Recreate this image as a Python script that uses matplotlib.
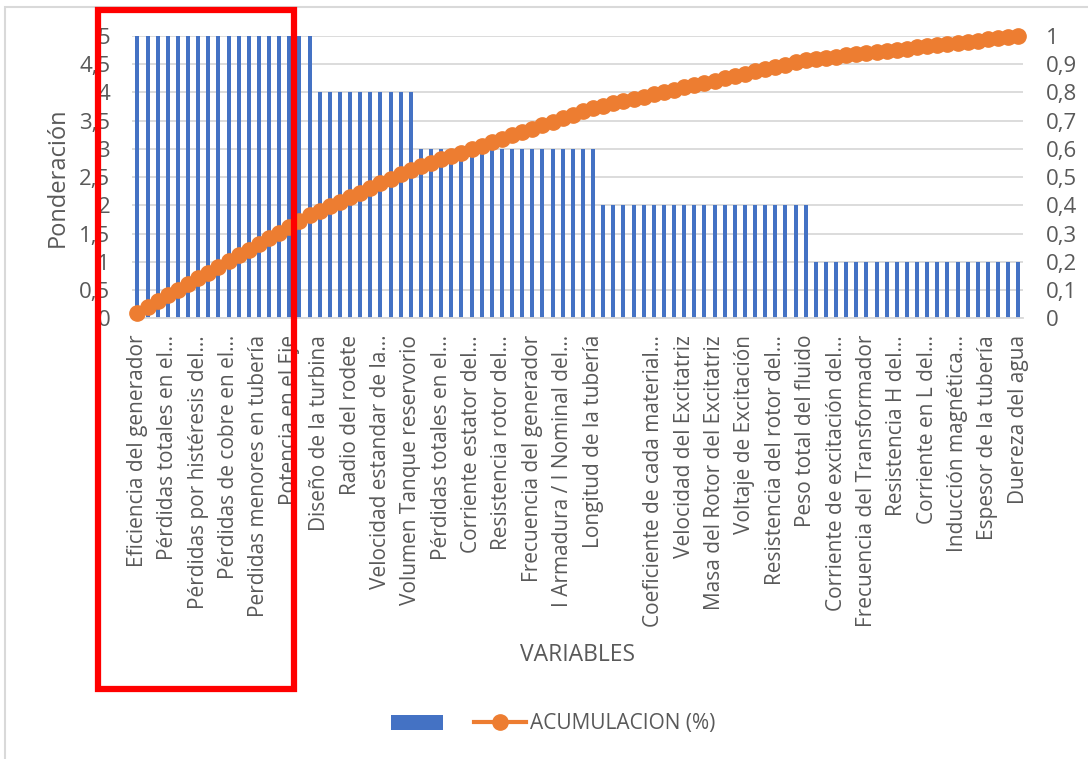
import matplotlib.pyplot as plt
from matplotlib.patches import Rectangle, Patch
from matplotlib.lines import Line2D
from matplotlib.ticker import FuncFormatter

# ==========================================
# Data
# ==========================================

# number of variables in each weight group (5, 4, 3, 2, 1)
weights = [5, 4, 3, 2, 1]
group_sizes = [18, 10, 18, 21, 21]

ponderacion = []
for w, n in zip(weights, group_sizes):
    ponderacion += [w] * n

# labels shown on the category axis (every 3rd variable)
tick_labels = [
    "Eficiencia del generador",
    "Pérdidas totales en el…",
    "Pérdidas por histéresis del…",
    "Pérdidas de cobre en el…",
    "Perdidas menores en tubería",
    "Potencia en el Eje",
    "Diseño de la turbina",
    "Radio del rodete",
    "Velocidad estandar de la…",
    "Volumen Tanque reservorio",
    "Pérdidas totales en el…",
    "Corriente estator del…",
    "Resistencia rotor del…",
    "Frecuencia del generador",
    "I Armadura / I Nominal del…",
    "Longitud de la tubería",
    "",
    "Coeficiente de cada material…",
    "Velocidad del Excitatriz",
    "Masa del Rotor del Excitatriz",
    "Voltaje de Excitación",
    "Resistencia del rotor del…",
    "Peso total del fluido",
    "Corriente de excitación del…",
    "Frecuencia del Transformador",
    "Resistencia H del…",
    "Corriente en L del…",
    "Inducción magnética…",
    "Espesor de la tubería",
    "Duereza del agua",
]
tick_step = 3

# cumulative share
total = sum(ponderacion)
acumulacion = []
s = 0
for v in ponderacion:
    s += v
    acumulacion.append(s / total)

x = list(range(len(ponderacion)))

# ==========================================
# Style
# ==========================================

plt.rcParams["font.family"] = ["Open Sans", "DejaVu Sans"]
text_color = "#595959"
grid_color = "#D9D9D9"
blue = "#4472C4"
orange = "#ED7D31"


def comma(v, pos):
    return f"{v:g}".replace(".", ",")


fig = plt.figure(figsize=(10.88, 7.59), dpi=100)
ax = fig.add_axes([0.1217, 0.5806, 0.8189, 0.372])
ax2 = ax.twinx()

# ==========================================
# Bars
# ==========================================

ax.bar(x, ponderacion, width=0.4, color=blue, zorder=2)
ax.set_xlim(-0.5, len(x) - 0.5)
ax.set_ylim(0, 5)
ax.set_yticks([i * 0.5 for i in range(11)])
ax.yaxis.set_major_formatter(FuncFormatter(comma))
ax.yaxis.grid(True, color=grid_color, lw=1.3, zorder=0)
ax.set_axisbelow(True)

ax.set_xticks(x[::tick_step])
ax.set_xticklabels(tick_labels, rotation=90, ha="center", va="top",
                   fontsize=15, color=text_color)
ax.tick_params(axis="x", length=0, pad=12)
ax.tick_params(axis="y", length=0, pad=16, labelsize=16, labelcolor=text_color)

ax.set_ylabel("Ponderación", fontsize=17, color=text_color, labelpad=7)
ax.set_xlabel("VARIABLES", fontsize=16.5, color=text_color)
ax.xaxis.set_label_coords(0.5, -1.15)

for side in ["top", "left", "right"]:
    ax.spines[side].set_visible(False)
ax.spines["bottom"].set_color(grid_color)
ax.spines["bottom"].set_linewidth(1.3)

# ==========================================
# Cumulative line
# ==========================================

ax2.plot(x, acumulacion, color=orange, lw=3, marker="o", markersize=11,
         clip_on=False, zorder=3)
ax2.set_ylim(0, 1)
ax2.set_yticks([i * 0.1 for i in range(11)])
ax2.yaxis.set_major_formatter(FuncFormatter(comma))
ax2.tick_params(axis="y", length=0, pad=16, labelsize=16, labelcolor=text_color)
for side in ["top", "left", "right", "bottom"]:
    ax2.spines[side].set_visible(False)

# ==========================================
# Legend
# ==========================================

handles = [
    Patch(facecolor=blue),
    Line2D([], [], color=orange, lw=3, marker="o", markersize=11),
]
fig.legend(handles, ["", "ACUMULACION (%)"], loc="center",
           bbox_to_anchor=(553 / 1088, 1 - 724 / 759), ncol=2, frameon=False,
           fontsize=15, labelcolor=text_color, handlelength=2.5,
           handletextpad=0.15, columnspacing=1.35)

# ==========================================
# Chart frame and highlight box
# ==========================================

fig.add_artist(Rectangle((5 / 1088, -0.1), 1.2, 1 - 7 / 759 + 0.1,
                         transform=fig.transFigure, fill=False,
                         edgecolor=grid_color, lw=1.5))
fig.add_artist(Rectangle((98 / 1088, 1 - 689 / 759), 196 / 1088, 679 / 759,
                         transform=fig.transFigure, fill=False,
                         edgecolor="#FF0000", lw=4.5, zorder=10))

fig.savefig("out.png", dpi=100)
